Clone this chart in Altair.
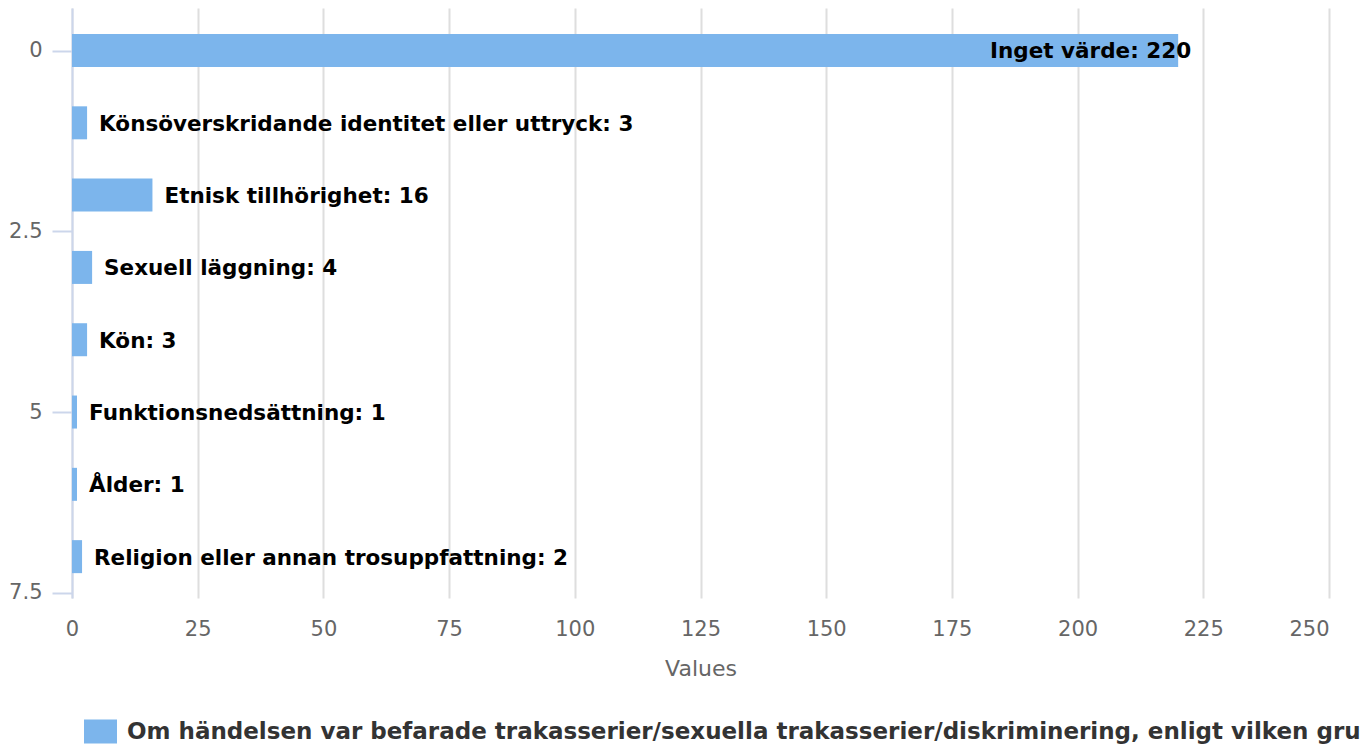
import altair as alt
import pandas as pd

categories = [
    "Inget värde",
    "Könsöverskridande identitet eller uttryck",
    "Etnisk tillhörighet",
    "Sexuell läggning",
    "Kön",
    "Funktionsnedsättning",
    "Ålder",
    "Religion eller annan trosuppfattning",
]
values = [220, 3, 16, 4, 3, 1, 1, 2]
positions = [0, 1, 2, 3, 4, 5, 6, 7]
series_name = ("Om händelsen var befarade trakasserier/sexuella trakasserier/"
               "diskriminering, enligt vilken grund?")
x_ticks = [0, 25, 50, 75, 100, 125, 150, 175, 200, 225, 250]
y_ticks = [0, 2.5, 5, 7.5]

df = pd.DataFrame({
    "category": categories,
    "value": values,
    "pos": positions,
    "series": [series_name] * len(categories),
})

FONT = "DejaVu Sans"

base = alt.Chart(df).transform_calculate(
    label="datum.category + ': ' + datum.value"
)

x_enc = alt.X(
    "value:Q",
    stack=None,
    scale=alt.Scale(domain=[0, 250], nice=False, padding=0),
    axis=alt.Axis(
        values=x_ticks, grid=True, gridColor="#dedede", gridWidth=2,
        domain=False, ticks=False, labelFontSize=21, labelColor="#666666",
        labelFont=FONT, labelPadding=20, labelFlush=False,
        labelAlign=alt.expr("datum.value == 250 ? 'right' : 'center'"),
        title="Values", titleFontSize=22,
        titleColor="#666666", titleFont=FONT, titleFontWeight="normal",
        titlePadding=19,
    ),
)
y_enc = alt.Y(
    "pos:Q",
    scale=alt.Scale(domain=[-0.588, 7.572], reverse=True, nice=False,
                    zero=False, padding=0),
    axis=alt.Axis(
        values=y_ticks, grid=False, domainColor="#ccd6eb", domainWidth=2,
        tickColor="#ccd6eb", tickWidth=2, tickSize=20, labelPadding=10,
        labelFontSize=21, labelColor="#666666", labelFont=FONT, title=None,
        labelExpr="toString(datum.value)",
    ),
)

bars = base.mark_bar(orient="horizontal", size=33).encode(
    x=x_enc,
    y=y_enc,
    color=alt.Color(
        "series:N",
        scale=alt.Scale(range=["#7cb5ec"]),
        legend=alt.Legend(
            title=None, orient="none", legendX=12, legendY=707,
            direction="horizontal",
            symbolType="M-1,-0.727H1V0.727H-1Z", symbolSize=1089,
            symbolStrokeWidth=0, labelFontSize=23, labelFontWeight="bold",
            labelColor="#333333", labelFont=FONT, labelLimit=5000,
            labelOffset=10, padding=0,
        ),
    ),
)

labels_out = base.transform_filter("datum.value < 100").mark_text(
    align="left", baseline="middle", dx=12, dy=2, fontSize=21.5,
    fontWeight="bold", color="black", font=FONT,
).encode(x="value:Q", y="pos:Q", text="label:N")

labels_in = base.transform_filter("datum.value >= 100").mark_text(
    align="right", baseline="middle", dx=13, dy=1, fontSize=21.5,
    fontWeight="bold", color="black", font=FONT,
).encode(x="value:Q", y="pos:Q", text="label:N")

chart = alt.layer(bars, labels_out, labels_in).properties(
    width=1257,
    height=590,
    autosize=alt.AutoSizeParams(type="none"),
    padding={"left": 64, "top": 0, "right": 32, "bottom": 151},
).configure_view(stroke=None)

chart.save("out.html", embed_options={"renderer": "svg", "actions": False})
